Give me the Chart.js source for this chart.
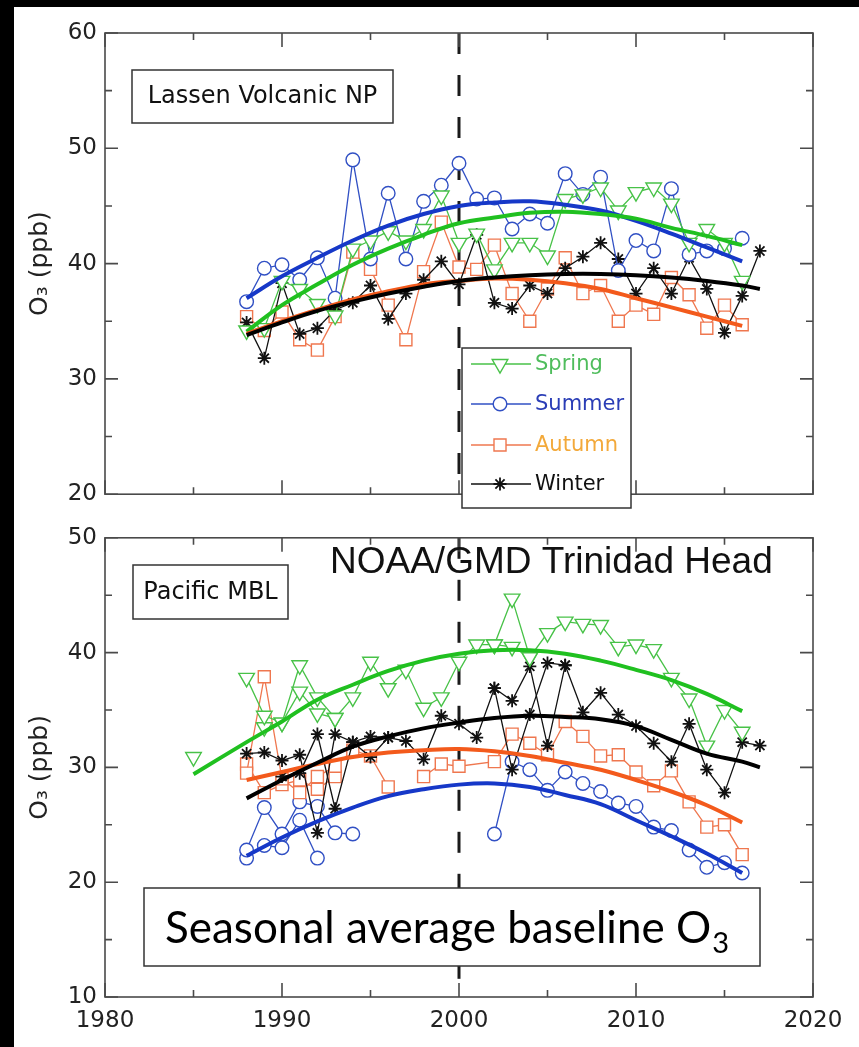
<!DOCTYPE html>
<html>
<head>
<meta charset="utf-8">
<script src="https://cdn.jsdelivr.net/npm/chart.js@4.4.0/dist/chart.umd.min.js"></script>
<style>
  html, body { margin: 0; padding: 0; background: #000; overflow: hidden; width: 859px; height: 1047px; }
  #page { position: absolute; left: 14px; top: 7px; right: 0; bottom: 0; background: #fff; }
  canvas { position: absolute; left: 0; }
  #top { top: 0; }
  #bottom { top: 516px; }
</style>
</head>
<body>
<div id="page"></div>
<canvas id="top" width="859" height="516"></canvas>
<canvas id="bottom" width="859" height="531"></canvas>
<script>
// ---- Lassen Volcanic NP (top panel) ----
var lvYears = [1988, 1989, 1990, 1991, 1992, 1993, 1994, 1995, 1996, 1997, 1998, 1999, 2000, 2001, 2002,
               2003, 2004, 2005, 2006, 2007, 2008, 2009, 2010, 2011, 2012, 2013, 2014, 2015, 2016];
var lvSpring = [34.2, 34.4, 38.5, 37.8, 36.5, 35.5, 41.3, 42.0, 42.8, 42.0, 43.0, 45.9, 41.8, 42.6, 39.5,
                41.8, 41.8, 40.7, 45.6, 46.0, 46.6, 44.6, 46.2, 46.6, 45.2, 41.8, 43.0, 41.8, 38.5];
var lvSummer = [36.7, 39.6, 39.9, 38.6, 40.5, 37.0, 49.0, 40.4, 46.1, 40.4, 45.4, 46.8, 48.7, 45.6, 45.7,
                43.0, 44.3, 43.5, 47.8, 46.0, 47.5, 39.4, 42.0, 41.1, 46.5, 40.8, 41.1, 41.3, 42.2];
var lvAutumn = [35.4, 34.2, 35.8, 33.4, 32.5, 35.4, 41.0, 39.5, 36.4, 33.4, 39.3, 43.6, 39.7, 39.5, 41.6,
                37.4, 35.0, 37.8, 40.5, 37.4, 38.1, 35.0, 36.4, 35.6, 38.8, 37.3, 34.4, 36.4, 34.7];
var lvWinterYears = [1988, 1989, 1990, 1991, 1992, 1993, 1994, 1995, 1996, 1997, 1998, 1999, 2000, 2001, 2002,
                     2003, 2004, 2005, 2006, 2007, 2008, 2009, 2010, 2011, 2012, 2013, 2014, 2015, 2016, 2017];
var lvWinter = [34.9, 31.8, 38.3, 33.9, 34.4, 36.0, 36.6, 38.1, 35.2, 37.4, 38.6, 40.2, 38.2, 42.5, 36.6,
                36.1, 38.1, 37.4, 39.6, 40.6, 41.8, 40.4, 37.4, 39.6, 37.4, 40.5, 37.8, 34.0, 37.2, 41.1];

// fitted curves, every two years
var fitYears = [1988, 1990, 1992, 1994, 1996, 1998, 2000, 2002, 2004, 2006, 2008, 2010, 2012, 2014, 2016];
var fitYearsW = [1988, 1990, 1992, 1994, 1996, 1998, 2000, 2002, 2004, 2006, 2008, 2010, 2012, 2014, 2016, 2017];
var lvSpringFit = [34.1, 36.4, 38.2, 39.9, 41.3, 42.5, 43.5, 44.0, 44.4, 44.5, 44.3, 43.9, 43.1, 42.4, 41.6];
var lvSummerFit = [37.0, 38.9, 40.5, 42.0, 43.3, 44.3, 45.0, 45.3, 45.4, 45.1, 44.6, 43.7, 42.6, 41.4, 40.2];
var lvAutumnFit = [33.9, 35.0, 36.0, 36.9, 37.6, 38.2, 38.5, 38.7, 38.6, 38.3, 37.8, 37.0, 36.2, 35.4, 34.6];
var lvWinterFit = [33.8, 34.9, 35.9, 36.7, 37.4, 38.0, 38.5, 38.8, 39.0, 39.1, 39.1, 39.0, 38.8, 38.5, 38.1, 37.8];

// ---- Trinidad Head / Pacific MBL (bottom panel) ----
var thSpringYears = [1985, 1986, 1988, 1989, 1990, 1991, 1992, 1993, 1994, 1995, 1996, 1997, 1998, 1999, 2000,
                     2001, 2002, 2003, 2004, 2005, 2006, 2007, 2008, 2009, 2010, 2011, 2012, 2013, 2014, 2015, 2016];
var thSpring = [30.9, null, 37.8, 34.5, 33.9, 38.9, 36.1, 34.3, 36.1, 39.2, 36.9, 38.5, 35.2, 36.1, 39.2,
                40.7, 40.7, 44.7, 39.6, 41.7, 42.7, 42.5, 42.4, 40.5, 40.7, 40.3, 37.8, 36.0, 31.9, 35.0, 33.1];
var thSpring2Years = [1989, 1990, 1991, 1992, 1993, 1994, 2002, 2003, 2004];
var thSpring2 = [33.5, 33.9, 36.6, 34.7, 34.3, null, 40.7, 40.5, 39.6];

var thSummerYears = [1988, 1989, 1990, 1991, 1992, 1993, 1994, 1995, 2002, 2003, 2004, 2005, 2006, 2007, 2008,
                     2009, 2010, 2011, 2012, 2013, 2014, 2015, 2016];
var thSummer = [22.8, 26.5, 24.2, 27.0, 26.6, 24.3, 24.2, null, 24.2, 30.5, 29.8, 28.0, 29.6, 28.6, 27.9,
                26.9, 26.6, 24.8, 24.5, 22.8, 21.3, 21.7, 20.8];
var thSummer2Years = [1988, 1989, 1990, 1991, 1992];
var thSummer2 = [22.1, 23.2, 23.0, 25.4, 22.1];

var thAutumnYears = [1988, 1989, 1990, 1991, 1992, 1993, 1994, 1995, 1996, 1997, 1998, 1999, 2000, 2002,
                     2003, 2004, 2005, 2006, 2007, 2008, 2009, 2010, 2011, 2012, 2013, 2014, 2015, 2016];
var thAutumn = [29.5, 37.9, 29.0, 27.8, 29.2, 30.1, 31.5, 31.0, 28.3, null, 29.2, 30.3, 30.1, 30.5,
                32.9, 32.1, 31.1, 34.0, 32.7, 31.0, 31.1, 29.6, 28.4, 29.7, 27.0, 24.8, 25.0, 22.4];
var thAutumn2Years = [1988, 1989, 1990, 1991, 1992, 1993];
var thAutumn2 = [30.3, 27.8, 28.5, 28.9, 28.1, 29.2];

var thWinterYears = [1988, 1989, 1990, 1991, 1992, 1993, 1994, 1995, 1996, 1997, 1998, 1999, 2000, 2001, 2002,
                     2003, 2004, 2005, 2006, 2007, 2008, 2009, 2010, 2011, 2012, 2013, 2014, 2015, 2016, 2017];
var thWinter = [31.2, 31.3, 30.6, 31.1, 24.3, 32.9, 32.2, 32.7, 32.6, 32.3, 30.7, 34.5, 33.8, 32.6, 36.9,
                35.8, 38.8, 31.9, 38.9, 34.8, 36.5, 34.6, 33.6, 32.1, 30.5, 33.8, 29.8, 27.8, 32.2, 31.9];
var thWinter2Years = [1990, 1991, 1992, 1993, 1994, 1995, 1996, 1997, 2002, 2003, 2004, 2005, 2006];
var thWinter2 = [29.2, 29.5, 32.9, 26.4, 32.2, 30.9, 32.6, null, 36.9, 29.8, 34.6, 39.1, 38.9];

var thSpringFitYears = [1985, 1988, 1990, 1992, 1994, 1996, 1998, 2000, 2002, 2004, 2006, 2008, 2010, 2012, 2014, 2016];
var thSpringFit = [29.4, 32.2, 34.0, 35.9, 37.2, 38.4, 39.3, 39.9, 40.2, 40.2, 39.9, 39.3, 38.5, 37.6, 36.4, 34.9];
var thSummerFit = [22.3, 23.9, 25.3, 26.5, 27.5, 28.1, 28.5, 28.6, 28.3, 27.6, 26.8, 25.4, 24.0, 22.5, 20.8];
var thAutumnFit = [28.9, 29.6, 30.3, 30.9, 31.3, 31.5, 31.6, 31.4, 31.0, 30.4, 29.8, 28.9, 27.9, 26.7, 25.2];
var thWinterFit = [27.3, 28.9, 30.4, 31.8, 32.7, 33.4, 33.9, 34.3, 34.5, 34.4, 34.2, 33.6, 32.4, 31.2, 30.5, 30.0];

var seasons = ['Spring', 'Summer', 'Autumn', 'Winter'];
var dashYear = 2000;

// ---- styles ----
var tickFont = 'DejaVu Sans';
var styles = {
    Spring: { color: '#48c248', fit: '#20c020', text: '#4fbd5c', shape: 'triangle', rot: 180, r: 9 },
    Summer: { color: '#3150c4', fit: '#1638c8', text: '#2a3db6', shape: 'circle', rot: 0, r: 6.8 },
    Autumn: { color: '#ef774f', fit: '#f35a1c', text: '#f3a93a', shape: 'rect', rot: 0, r: 8.5 },
    Winter: { color: '#111111', fit: '#000000', text: '#111111', shape: 'star', rot: 0, r: 6.5 }
};

function pts(xs, ys) {
    return xs.map(function (x, i) { return { x: x, y: ys[i] }; });
}

function dataSet(season, xs, ys) {
    var s = styles[season];
    return {
        data: pts(xs, ys),
        borderColor: s.color,
        backgroundColor: '#fff',
        borderWidth: 1.3,
        pointStyle: s.shape,
        pointRotation: s.rot,
        pointRadius: s.r,
        pointBorderWidth: s.shape === 'star' ? 1.8 : 1.4,
        pointBorderColor: s.color,
        pointBackgroundColor: '#fff',
        tension: 0
    };
}

function fitSet(season, xs, ys) {
    return {
        data: pts(xs, ys),
        borderColor: styles[season].fit,
        borderWidth: 4,
        pointRadius: 0,
        tension: 0.4,
        fill: false
    };
}

function line(ctx, x1, y1, x2, y2) {
    ctx.moveTo(x1, y1);
    ctx.lineTo(x2, y2);
}

// frame, inward ticks and the dashed 2000 line
var decor = {
    id: 'decor',
    beforeDatasetsDraw: function (chart) {
        var ctx = chart.ctx, a = chart.chartArea, px = chart.scales.x.getPixelForValue(dashYear);
        ctx.save();
        ctx.strokeStyle = '#1a1a1a';
        ctx.lineWidth = 3;
        ctx.setLineDash([21, 21]);
        ctx.beginPath();
        line(ctx, px, a.top, px, a.bottom);
        ctx.stroke();
        ctx.restore();
    },
    afterDatasetsDraw: function (chart) {
        var ctx = chart.ctx, a = chart.chartArea, x = chart.scales.x, y = chart.scales.y;
        ctx.save();
        ctx.strokeStyle = '#4a4a4a';
        ctx.lineWidth = 1.6;
        ctx.beginPath();
        for (var v = x.min; v <= x.max; v += 5) {
            var px = x.getPixelForValue(v), len = v % 10 === 0 ? 14 : 7;
            line(ctx, px, a.bottom, px, a.bottom - len);
            line(ctx, px, a.top, px, a.top + len);
        }
        for (var w = y.min; w <= y.max; w += 5) {
            var py = y.getPixelForValue(w), l2 = w % 10 === 0 ? 13 : 7;
            line(ctx, a.left, py, a.left + l2, py);
            line(ctx, a.right, py, a.right - l2, py);
        }
        ctx.stroke();
        ctx.strokeRect(a.left, a.top, a.right - a.left, a.bottom - a.top);
        ctx.restore();
    }
};

function marker(ctx, season, cx, cy) {
    var s = styles[season], r = s.r;
    ctx.save();
    ctx.strokeStyle = s.color;
    ctx.fillStyle = '#fff';
    ctx.lineWidth = s.shape === 'star' ? 1.8 : 1.4;
    ctx.beginPath();
    if (s.shape === 'triangle') {
        ctx.moveTo(cx - r * 0.866, cy - r / 2);
        ctx.lineTo(cx + r * 0.866, cy - r / 2);
        ctx.lineTo(cx, cy + r);
        ctx.closePath();
        ctx.fill();
    } else if (s.shape === 'circle') {
        ctx.arc(cx, cy, r, 0, Math.PI * 2);
        ctx.fill();
    } else if (s.shape === 'rect') {
        var h = r * Math.SQRT1_2;
        ctx.rect(cx - h, cy - h, 2 * h, 2 * h);
        ctx.fill();
    } else {
        for (var k = 0; k < 4; k++) {
            var ang = k * Math.PI / 4;
            line(ctx, cx - Math.cos(ang) * r, cy - Math.sin(ang) * r, cx + Math.cos(ang) * r, cy + Math.sin(ang) * r);
        }
    }
    ctx.stroke();
    ctx.restore();
}

function textBox(ctx, x, y, w, h, lw) {
    ctx.save();
    ctx.fillStyle = '#fff';
    ctx.fillRect(x, y, w, h);
    ctx.strokeStyle = '#333';
    ctx.lineWidth = lw;
    ctx.strokeRect(x, y, w, h);
    ctx.restore();
}

var topNotes = {
    id: 'topNotes',
    afterDraw: function (chart) {
        var ctx = chart.ctx;
        textBox(ctx, 132, 70, 261, 53, 1.5);
        ctx.save();
        ctx.fillStyle = '#111';
        ctx.font = '24px "DejaVu Sans"';
        ctx.textAlign = 'center';
        ctx.textBaseline = 'middle';
        ctx.fillText('Lassen Volcanic NP', 262.5, 97);
        ctx.restore();

        // legend
        textBox(ctx, 462, 348, 169, 160, 1.5);
        var rows = [364, 404, 445, 484];
        ctx.save();
        ctx.font = '21px "DejaVu Sans"';
        ctx.textBaseline = 'middle';
        seasons.forEach(function (s, i) {
            ctx.strokeStyle = styles[s].color;
            ctx.lineWidth = 1.4;
            ctx.beginPath();
            line(ctx, 471, rows[i], 531, rows[i]);
            ctx.stroke();
            marker(ctx, s, 500, rows[i]);
            ctx.fillStyle = styles[s].text;
            ctx.fillText(s, 535, rows[i] + 1);
        });
        ctx.restore();
    }
};

var bottomNotes = {
    id: 'bottomNotes',
    afterDraw: function (chart) {
        var ctx = chart.ctx;
        ctx.save();
        ctx.fillStyle = '#111';
        ctx.font = '37px "Liberation Sans"';
        ctx.textBaseline = 'alphabetic';
        ctx.fillText('NOAA/GMD Trinidad Head', 330, 57);
        ctx.restore();

        textBox(ctx, 133, 49, 155, 54, 1.5);
        ctx.save();
        ctx.fillStyle = '#111';
        ctx.font = '24px "DejaVu Sans"';
        ctx.textAlign = 'center';
        ctx.textBaseline = 'middle';
        ctx.fillText('Pacific MBL', 210.5, 77);
        ctx.restore();

        textBox(ctx, 144, 372, 616, 78, 1.5);
        ctx.save();
        ctx.fillStyle = '#000';
        ctx.font = '44px Lato';
        ctx.textBaseline = 'alphabetic';
        var main = 'Seasonal average baseline O';
        ctx.fillText(main, 165, 427);
        var wMain = ctx.measureText(main).width;
        ctx.font = '29px Lato';
        ctx.fillText('3', 165 + wMain + 1, 437);
        ctx.restore();
    }
};

function yAxis(min, max) {
    return {
        min: min, max: max,
        afterFit: function (s) { s.width = 105; },
        grid: { display: false, drawTicks: false },
        border: { display: false },
        ticks: {
            stepSize: 5, padding: 8, color: '#222',
            font: { family: tickFont, size: 23 },
            callback: function (v) { return v % 10 === 0 ? v : ''; }
        },
        title: {
            display: true, text: 'O\u2083 (ppb)', color: '#222',
            font: { family: tickFont, size: 25 },
            padding: { top: 25, bottom: 0 }
        }
    };
}

function baseOptions(padTop, padBottom) {
    return {
        responsive: false,
        animation: false,
        events: [],
        layout: { padding: { left: 0, right: 46, top: padTop, bottom: padBottom } },
        plugins: { legend: { display: false }, tooltip: { enabled: false } }
    };
}

// top panel
var topOpts = baseOptions(33, 14);
topOpts.scales = {
    x: { type: 'linear', min: 1980, max: 2020, display: false },
    y: yAxis(20, 60)
};
new Chart(document.getElementById('top').getContext('2d'), {
    type: 'line',
    data: {
        datasets: [
            fitSet('Winter', fitYearsW, lvWinterFit),
            fitSet('Autumn', fitYears, lvAutumnFit),
            fitSet('Spring', fitYears, lvSpringFit),
            fitSet('Summer', fitYears, lvSummerFit),
            dataSet('Spring', lvYears, lvSpring),
            dataSet('Summer', lvYears, lvSummer),
            dataSet('Winter', lvWinterYears, lvWinter),
            dataSet('Autumn', lvYears, lvAutumn)
        ]
    },
    options: topOpts,
    plugins: [decor, topNotes]
});

// bottom panel
var botOpts = baseOptions(15, 0);
botOpts.scales = {
    x: {
        type: 'linear', min: 1980, max: 2020,
        afterFit: function (s) { s.height = 50; },
        grid: { display: false, drawTicks: false },
        border: { display: false },
        ticks: {
            stepSize: 5, padding: 10, color: '#222', autoSkip: false, maxRotation: 0,
            font: { family: tickFont, size: 23 },
            callback: function (v) { return v % 10 === 0 ? String(v) : ''; }
        }
    },
    y: yAxis(10, 50)
};
new Chart(document.getElementById('bottom').getContext('2d'), {
    type: 'line',
    data: {
        datasets: [
            fitSet('Spring', thSpringFitYears, thSpringFit),
            fitSet('Winter', fitYearsW, thWinterFit),
            fitSet('Autumn', fitYears, thAutumnFit),
            fitSet('Summer', fitYears, thSummerFit),
            dataSet('Spring', thSpringYears, thSpring),
            dataSet('Spring', thSpring2Years, thSpring2),
            dataSet('Winter', thWinterYears, thWinter),
            dataSet('Winter', thWinter2Years, thWinter2),
            dataSet('Autumn', thAutumnYears, thAutumn),
            dataSet('Autumn', thAutumn2Years, thAutumn2),
            dataSet('Summer', thSummerYears, thSummer),
            dataSet('Summer', thSummer2Years, thSummer2)
        ]
    },
    options: botOpts,
    plugins: [decor, bottomNotes]
});
</script>
</body>
</html>
